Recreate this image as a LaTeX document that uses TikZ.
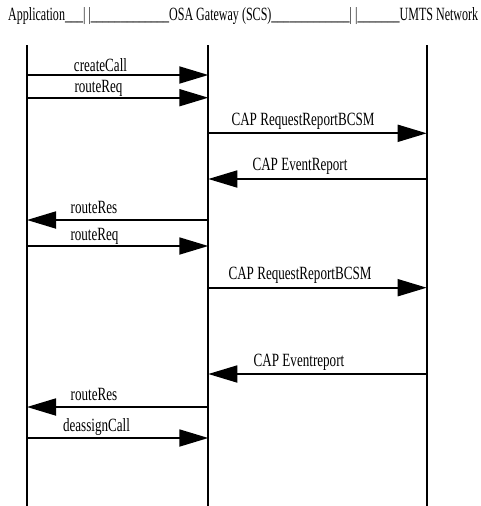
\documentclass[tikz,border=0pt]{standalone}
\usepackage{fontspec}
\setmainfont{Liberation Serif}[FakeStretch=0.7]
\usetikzlibrary{arrows.meta}

\begin{document}
\begin{tikzpicture}[x=1pt, y=-1pt,
    life/.style={line width=1.8pt},
    msg/.style={line width=1.8pt, -{Triangle[length=29pt,width=17pt]}},
    lbl/.style={anchor=base, inner sep=0pt, font=\fontsize{18.7}{20}\selectfont}]
      \useasboundingbox (0,0) rectangle (480,506);

      % header
      \node[anchor=base west, inner sep=0pt, font=\fontsize{18.7}{20}\selectfont] (hdr) at (8,20.5)
      {\resizebox{470pt}{\height}{Application\_\_\_| |\_\_\_\_\_\_\_\_\_\_\_\_\_OSA Gateway (SCS)\_\_\_\_\_\_\_\_\_\_\_\_\_| |\_\_\_\_\_\_\_UMTS Network}};

      % lifelines
      \coordinate (appT) at (27,45);
      \coordinate (appB) at (27,506);
      \coordinate (gwT) at (208.3,45);
      \coordinate (gwB) at (208.3,506);
      \coordinate (netT) at (426.7,45);
      \coordinate (netB) at (426.7,506);

      \draw[life] (appT)--(appB);
      \draw[life] (gwT)--(gwB);
      \draw[life] (netT)--(netB);

      % message ends
      \coordinate (s1) at (27,75);     \coordinate (e1) at (208.3,75);
      \coordinate (s2) at (27,97.7);   \coordinate (e2) at (208.3,97.7);
      \coordinate (s3) at (208.3,133.3); \coordinate (e3) at (426.7,133.3);
      \coordinate (s4) at (426.7,179); \coordinate (e4) at (208.3,179);
      \coordinate (s5) at (208.3,220); \coordinate (e5) at (27,220);
      \coordinate (s6) at (27,246);    \coordinate (e6) at (208.3,246);
      \coordinate (s7) at (208.3,287.7); \coordinate (e7) at (426.7,287.7);
      \coordinate (s8) at (426.7,374); \coordinate (e8) at (208.3,374);
      \coordinate (s9) at (208.3,407); \coordinate (e9) at (27,407);
      \coordinate (s10) at (27,438);   \coordinate (e10) at (208.3,438);

      \draw[msg] (s1)--(e1);
      \draw[msg] (s2)--(e2);
      \draw[msg] (s3)--(e3);
      \draw[msg] (s4)--(e4);
      \draw[msg] (s5)--(e5);
      \draw[msg] (s6)--(e6);
      \draw[msg] (s7)--(e7);
      \draw[msg] (s8)--(e8);
      \draw[msg] (s9)--(e9);
      \draw[msg] (s10)--(e10);

      % labels
      \node[lbl] (createCall) at (100.5,71) {createCall};
      \node[lbl] (routeReq) at (98.5,92) {routeReq};
      \node[lbl] (capReq) at (303,125.7) {CAP RequestReportBCSM};
      \node[lbl] (capEv) at (300,170) {CAP EventReport};
      \node[lbl] (routeRes) at (94,213.3) {routeRes};
      \node[lbl] (routeReqB) at (94.5,240) {routeReq};
      \node[lbl] (capReqB) at (300,279.3) {CAP RequestReportBCSM};
      \node[lbl] (capEvB) at (299,366) {CAP Eventreport};
      \node[lbl] (routeResB) at (94,400) {routeRes};
      \node[lbl] (deassign) at (96.5,431) {deassignCall};
    \end{tikzpicture}
\end{document}
